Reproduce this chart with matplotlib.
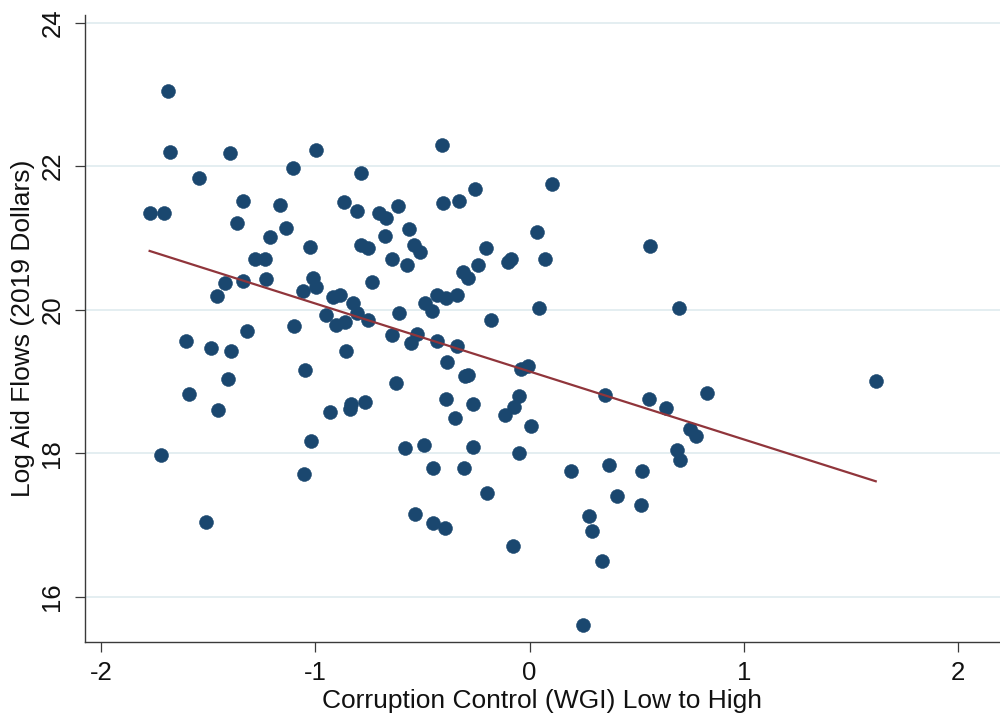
import numpy as np
import matplotlib
matplotlib.use("Agg")
import matplotlib.pyplot as plt

plt.rcParams['font.family'] = ['Liberation Sans', 'DejaVu Sans']

# Control of corruption (WGI) per country
wgi = np.array([
    -1.686, -1.679, -1.399, -0.996, -1.102, -1.544, -1.773, -1.707, -1.336, -1.165,
    -1.365, -1.137, -1.211, -1.025, -1.281, -1.236, -1.228, -1.012, -1.421, -1.339,
    -1.057, -0.995, -1.457, -1.098, -1.320, -1.602, -1.485, -1.395, -1.046, -1.409,
    -1.588, -1.453, -1.021, -1.721, -1.054, -1.510,
    -0.407, -0.786, -0.867, -0.807, -0.702, -0.670, -0.615, -0.402, -0.327, -0.256,
    -0.562, -0.673, -0.785, -0.755, -0.539, -0.511, -0.643, -0.573, -0.240, -0.310,
    -0.288, -0.737, -0.916, -0.884, -0.825, -0.807, -0.950, -0.609, -0.434, -0.390,
    -0.338, -0.489, -0.454, -0.755, -0.860, -0.903, -0.643, -0.554, -0.525, -0.430,
    -0.338, -0.855, -0.384, -0.300, -0.288, -0.623, -0.933, -0.839, -0.832, -0.766,
    -0.391, -0.348, -0.262, -0.582, -0.491, -0.264, -0.450, -0.306, -0.534, -0.450,
    -0.393,
    0.106, 0.036, -0.202, -0.102, -0.085, 0.071, -0.181, 0.043, -0.040, -0.008,
    -0.050, -0.072, -0.113, 0.007, -0.049, -0.197, -0.077, 0.194, 0.370, 0.524,
    0.407, 0.521, 0.277, 0.293, 0.337, 0.250, 0.354, 0.556, 0.562, 0.698,
    1.616, 0.637, 0.830, 0.748, 0.779, 0.688, 0.701,
])

# Log aid flows (2019 dollars) per country
log_aid = np.array([
    23.05, 22.20, 22.18, 22.22, 21.98, 21.83, 21.35, 21.35, 21.51, 21.46,
    21.21, 21.14, 21.01, 20.87, 20.70, 20.70, 20.43, 20.44, 20.37, 20.40,
    20.26, 20.32, 20.19, 19.78, 19.71, 19.57, 19.46, 19.43, 19.16, 19.04,
    18.83, 18.60, 18.17, 17.97, 17.71, 17.04,
    22.29, 21.90, 21.50, 21.37, 21.35, 21.28, 21.45, 21.49, 21.52, 21.68,
    21.12, 21.03, 20.90, 20.86, 20.90, 20.81, 20.70, 20.62, 20.62, 20.53,
    20.44, 20.39, 20.18, 20.21, 20.10, 19.95, 19.92, 19.96, 20.21, 20.16,
    20.21, 20.09, 19.98, 19.85, 19.83, 19.79, 19.65, 19.53, 19.66, 19.57,
    19.49, 19.42, 19.27, 19.08, 19.09, 18.98, 18.57, 18.61, 18.68, 18.71,
    18.76, 18.49, 18.68, 18.08, 18.11, 18.09, 17.80, 17.80, 17.16, 17.03,
    16.96,
    21.75, 21.09, 20.86, 20.66, 20.71, 20.70, 19.85, 20.02, 19.18, 19.22,
    18.80, 18.65, 18.54, 18.38, 18.00, 17.44, 16.71, 17.75, 17.84, 17.75,
    17.41, 17.28, 17.12, 16.91, 16.50, 15.60, 18.81, 18.75, 20.89, 20.02,
    19.01, 18.63, 18.84, 18.34, 18.24, 18.05, 17.90,
])

# Linear fit: log_aid = fit_intercept + fit_slope * wgi
fit_intercept = 19.14
fit_slope = -0.947

x_ticks = [-2, -1, 0, 1, 2]
y_ticks = [16, 18, 20, 22, 24]

navy = '#1a476f'
maroon = '#90353b'
axis_col = '#3a3a3a'

fig = plt.figure(figsize=(10, 7.17), dpi=100)
ax = fig.add_axes([0.0845, 0.1046, 0.9155, 0.8745])

ax.set_xlim(-2.077, 2.196)
ax.set_ylim(15.37, 24.107)

ax.set_yticks(y_ticks)
ax.set_xticks(x_ticks)
ax.grid(axis='y', color='#e4eef1', linewidth=1.4, zorder=0)
ax.set_axisbelow(True)

ax.scatter(wgi, log_aid, s=100, color=navy, edgecolors=navy,
           linewidths=0.4, zorder=3)

fx = np.array([wgi.min(), wgi.max()])
ax.plot(fx, fit_intercept + fit_slope * fx, color=maroon, linewidth=1.6, zorder=4)

for side in ('top', 'right'):
    ax.spines[side].set_visible(False)
for side in ('left', 'bottom'):
    ax.spines[side].set_color(axis_col)
    ax.spines[side].set_linewidth(1.0)

ax.tick_params(axis='both', direction='out', length=7.5, width=0.9,
               color=axis_col, labelsize=18.5, labelcolor='#111111')
ax.tick_params(axis='y', pad=7)
ax.tick_params(axis='x', pad=6)
ax.set_xticklabels([str(v).replace('-', '-') for v in x_ticks])
ax.set_yticklabels([str(v) for v in y_ticks])
for lbl in ax.get_yticklabels():
    lbl.set_rotation(90)
    lbl.set_va('center')

ax.set_xlabel('Corruption Control (WGI) Low to High', fontsize=19, color='#111111', labelpad=3)
ax.set_ylabel('Log Aid Flows (2019 Dollars)', fontsize=19, color='#111111', labelpad=4)

fig.savefig('out.png', dpi=100, facecolor='white')
